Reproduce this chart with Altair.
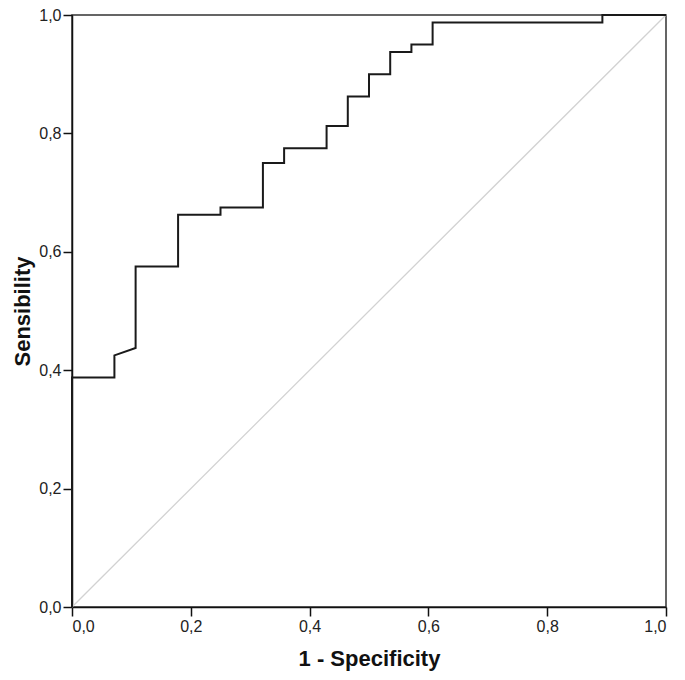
import altair as alt
import pandas as pd

# ROC curve points (1 - specificity, sensitivity)
fpr = [0.0, 0.0, 0.0714, 0.0714, 0.1071, 0.1071, 0.1786, 0.1786, 0.25, 0.25,
       0.3214, 0.3214, 0.3571, 0.3571, 0.4286, 0.4286, 0.4643, 0.4643, 0.5, 0.5,
       0.5357, 0.5357, 0.5714, 0.5714, 0.6071, 0.6071, 0.8929, 0.8929, 1.0]
tpr = [0.0, 0.3875, 0.3875, 0.425, 0.4375, 0.575, 0.575, 0.6625, 0.6625, 0.675,
       0.675, 0.75, 0.75, 0.775, 0.775, 0.8125, 0.8125, 0.8625, 0.8625, 0.9,
       0.9, 0.9375, 0.9375, 0.95, 0.95, 0.9875, 0.9875, 1.0, 1.0]

diag_x = [0.0, 1.0]
diag_y = [0.0, 1.0]
ticks = [0.0, 0.2, 0.4, 0.6, 0.8, 1.0]

roc = pd.DataFrame({"x": fpr, "y": tpr, "i": list(range(len(fpr)))})
diag = pd.DataFrame({"x": diag_x, "y": diag_y})

label_expr = "replace(format(datum.value, '.1f'), '.', ',')"

xscale = alt.Scale(domain=[0, 1], nice=False, zero=False)
yscale = alt.Scale(domain=[0, 1], nice=False, zero=False)

xaxis = alt.Axis(title="1 - Specificity", values=ticks, labelExpr=label_expr,
                 grid=False, tickSize=9, titlePadding=14, labelPadding=2)
yaxis = alt.Axis(title="Sensibility", values=ticks, labelExpr=label_expr,
                 grid=False, tickSize=9, titlePadding=4, labelPadding=2)

diag_line = alt.Chart(diag).mark_line(color="#d2d2d2", strokeWidth=1.3).encode(
    x=alt.X("x:Q", scale=xscale, axis=xaxis),
    y=alt.Y("y:Q", scale=yscale, axis=yaxis),
)

roc_line = alt.Chart(roc).mark_line(color="#1a1a1a", strokeWidth=2).encode(
    x=alt.X("x:Q", scale=xscale, axis=xaxis),
    y=alt.Y("y:Q", scale=yscale, axis=yaxis),
    order="i:Q",
)

chart = alt.layer(diag_line, roc_line).properties(
    width=594, height=592,
    background="white",
    autosize=alt.AutoSizeParams(type="none"),
    padding={"left": 64, "top": 7, "right": 11, "bottom": 65},
).configure_view(
    stroke="#333333", strokeWidth=1.5
).configure_axis(
    domainColor="#111111", domainWidth=1.5, tickColor="#111111", tickWidth=1.5,
    labelFont="Liberation Sans, Arial", labelFontSize=16,
    labelColor="#222222",
    titleFont="Liberation Sans, Arial", titleFontSize=22,
    titleFontWeight="bold", titleColor="#111111",
)

chart.save("out.html", embed_options={"renderer": "svg", "actions": False})
